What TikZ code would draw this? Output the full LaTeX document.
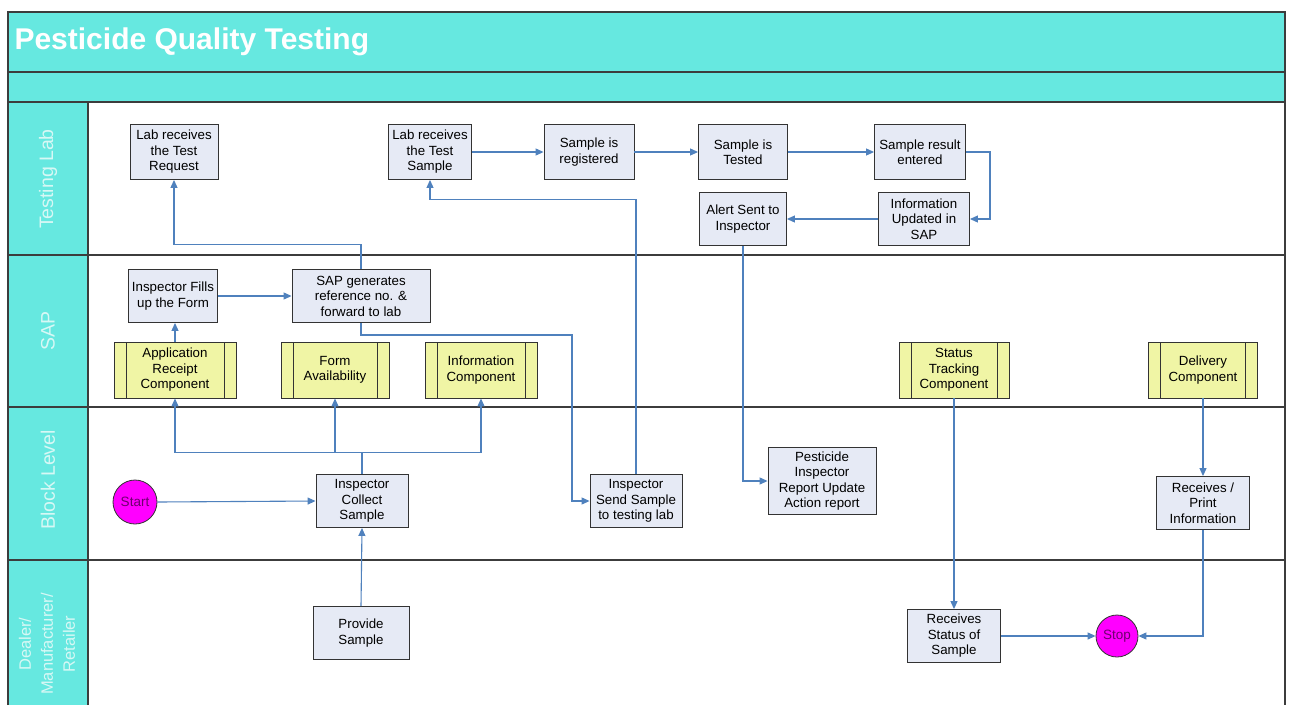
\documentclass[tikz,border=0pt]{standalone}
\usepackage{fontspec}
\setmainfont{Liberation Sans}
\usetikzlibrary{arrows.meta}
\definecolor{teal1}{RGB}{102,232,224}
\definecolor{procfill}{RGB}{230,234,245}
\definecolor{compfill}{RGB}{240,245,165}
\definecolor{flow}{RGB}{79,129,189}
\definecolor{lanel}{RGB}{60,60,60}
\definecolor{termfill}{RGB}{255,0,255}
\definecolor{termtext}{RGB}{110,0,110}
\definecolor{lanetext}{RGB}{215,248,245}
\begin{document}
\begin{tikzpicture}[x=1pt,y=-1pt,
  proc/.style={draw=black!80, fill=procfill, line width=0.9pt, align=center, inner sep=1pt,
    minimum width=90, minimum height=54, font=\fontsize{13.3}{15.5}\selectfont},
  comp/.style={draw=black!80, fill=compfill, line width=0.9pt, align=center, inner sep=1pt,
    minimum width=110, minimum height=56, font=\fontsize{13.3}{15.5}\selectfont,
    path picture={
      \draw[black!80, line width=0.9pt] ([xshift=12pt]path picture bounding box.north west) -- ([xshift=12pt]path picture bounding box.south west);
      \draw[black!80, line width=0.9pt] ([xshift=-12pt]path picture bounding box.north east) -- ([xshift=-12pt]path picture bounding box.south east);}},
  term/.style={circle, draw=black!80, fill=termfill, line width=0.8pt, minimum size=44, inner sep=0pt,
    font=\fontsize{13.5}{14}\selectfont, text=termtext},
  flowline/.style={draw=flow, line width=1.1pt, -{Triangle[length=8pt,width=7pt]}},
  lanetxt/.style={text=lanetext, rotate=90, align=center, font=\fontsize{19.5}{23}\selectfont},
  laneline/.style={draw=lanel, line width=1.5pt}
]
\useasboundingbox (0,0) rectangle (1290,705);
\fill[white] (0,0) rectangle (1290,705);
% bands
\fill[teal1] (8,12) rectangle (1285,102);
\fill[teal1] (8,102) rectangle (88,705);
\draw[laneline] (8,705) -- (8,12) -- (1285,12) -- (1285,705);
\foreach \yy in {72,102,255,407,560} \draw[laneline] (8,\yy) -- (1285,\yy);
\draw[laneline] (88,102) -- (88,705);
\node[anchor=west, text=white, font=\fontsize{30}{32}\selectfont\bfseries] (title) at (11,42) {Pesticide Quality Testing};
% lane labels
\node[lanetxt] (l1) at (48,179) {Testing Lab};
\node[lanetxt] (l2) at (48,331) {SAP};
\node[lanetxt] (l3) at (48,480) {Block Level};
\node[lanetxt, font=\fontsize{16.5}{22}\selectfont] (l4) at (47,644) {Dealer/\\Manufacturer/\\Retailer};
% Testing lab
\node[proc, minimum width=88, minimum height=55] (treq) at (174,152) {Lab receives\\the Test\\Request};
\node[proc, minimum width=83, minimum height=55] (tsamp) at (430,152) {Lab receives\\the Test\\Sample};
\node[proc, minimum width=90, minimum height=55] (reg) at (589,152) {Sample is\\registered};
\node[proc, minimum width=89, minimum height=55] (tested) at (743,152) {Sample is\\Tested};
\node[proc, minimum width=91, minimum height=55] (entered) at (920,152) {Sample result\\entered};
\node[proc, minimum width=91, minimum height=53] (infoupd) at (924,219) {Information\\Updated in\\SAP};
\node[proc, minimum width=87, minimum height=53] (alert) at (743,219) {Alert Sent to\\Inspector};
% SAP
\node[proc, minimum width=89, minimum height=53] (fills) at (173,296) {Inspector Fills\\up the Form};
\node[proc, minimum width=138, minimum height=53] (sapgen) at (361,296) {SAP generates\\reference no. \&\\forward to lab};
\node[comp, minimum width=122] (appr) at (175,370) {Application\\Receipt\\Component};
\node[comp, minimum width=108] (forma) at (335,370) {Form\\Availability};
\node[comp, minimum width=112] (infoc) at (481,370) {Information\\Component};
\node[comp, minimum width=110] (stat) at (954,370) {Status\\Tracking\\Component};
\node[comp, minimum width=109] (deliv) at (1203,370) {Delivery\\Component};
% Block level
\node[term] (start) at (135,502) {Start};
\node[proc, minimum width=92, minimum height=53] (collect) at (362,501) {Inspector\\Collect\\Sample};
\node[proc, minimum width=92, minimum height=53] (send) at (636,501) {Inspector\\Send Sample\\to testing lab};
\node[proc, minimum width=108, minimum height=67] (pest) at (822,481) {Pesticide\\Inspector\\Report Update\\Action report};
\node[proc, minimum width=93, minimum height=53] (rprint) at (1203,503) {Receives /\\Print\\Information};
% Dealer
\node[proc, minimum width=96, minimum height=53] (provide) at (361,633) {Provide\\Sample};
\node[proc, minimum width=93, minimum height=53] (rstatus) at (954,636) {Receives\\Status of\\Sample};
\node[term, minimum size=42] (stop) at (1117,636) {Stop};
% connectors
\draw[flowline] (tsamp.east) -- (reg.west);
\draw[flowline] (reg.east) -- (tested.west);
\draw[flowline] (tested.east) -- (entered.west);
\draw[flowline] (entered.east) -- ++(24,0) |- (infoupd.east);
\draw[flowline] (infoupd.west) -- (alert.east);
\draw[flowline] (sapgen.north) -- ++(0,-25) -| (treq.south);
\draw[flowline] (fills.east) -- (sapgen.west);
\draw[flowline] (appr.north) -- (appr.north |- fills.south);
\coordinate (c1) at (572,335);
\draw[flowline] (sapgen.south) |- (c1) |- (send.west);
\draw[flowline] (send.north) -- ++(0,-275) -| (tsamp.south);
\draw[flowline] (alert.south) |- (pest.west);
\draw[draw=flow, line width=1.1pt] (collect.north) -- ++(0,-22) coordinate (j);
\draw[flowline] (j) -| (appr.south);
\draw[flowline] (j) -| (infoc.south);
\draw[flowline] (forma.south |- j) -- (forma.south);
\draw[flowline] (start.east) -- (collect.west);
\draw[flowline] (provide.north) -- (collect.south);
\draw[flowline] (stat.south) -- (stat.south |- rstatus.north);
\draw[flowline] (deliv.south) -- (deliv.south |- rprint.north);
\draw[flowline] (rprint.south) |- (stop.east);
\draw[flowline] (rstatus.east) -- (stop.west);
\end{tikzpicture}
\end{document}
